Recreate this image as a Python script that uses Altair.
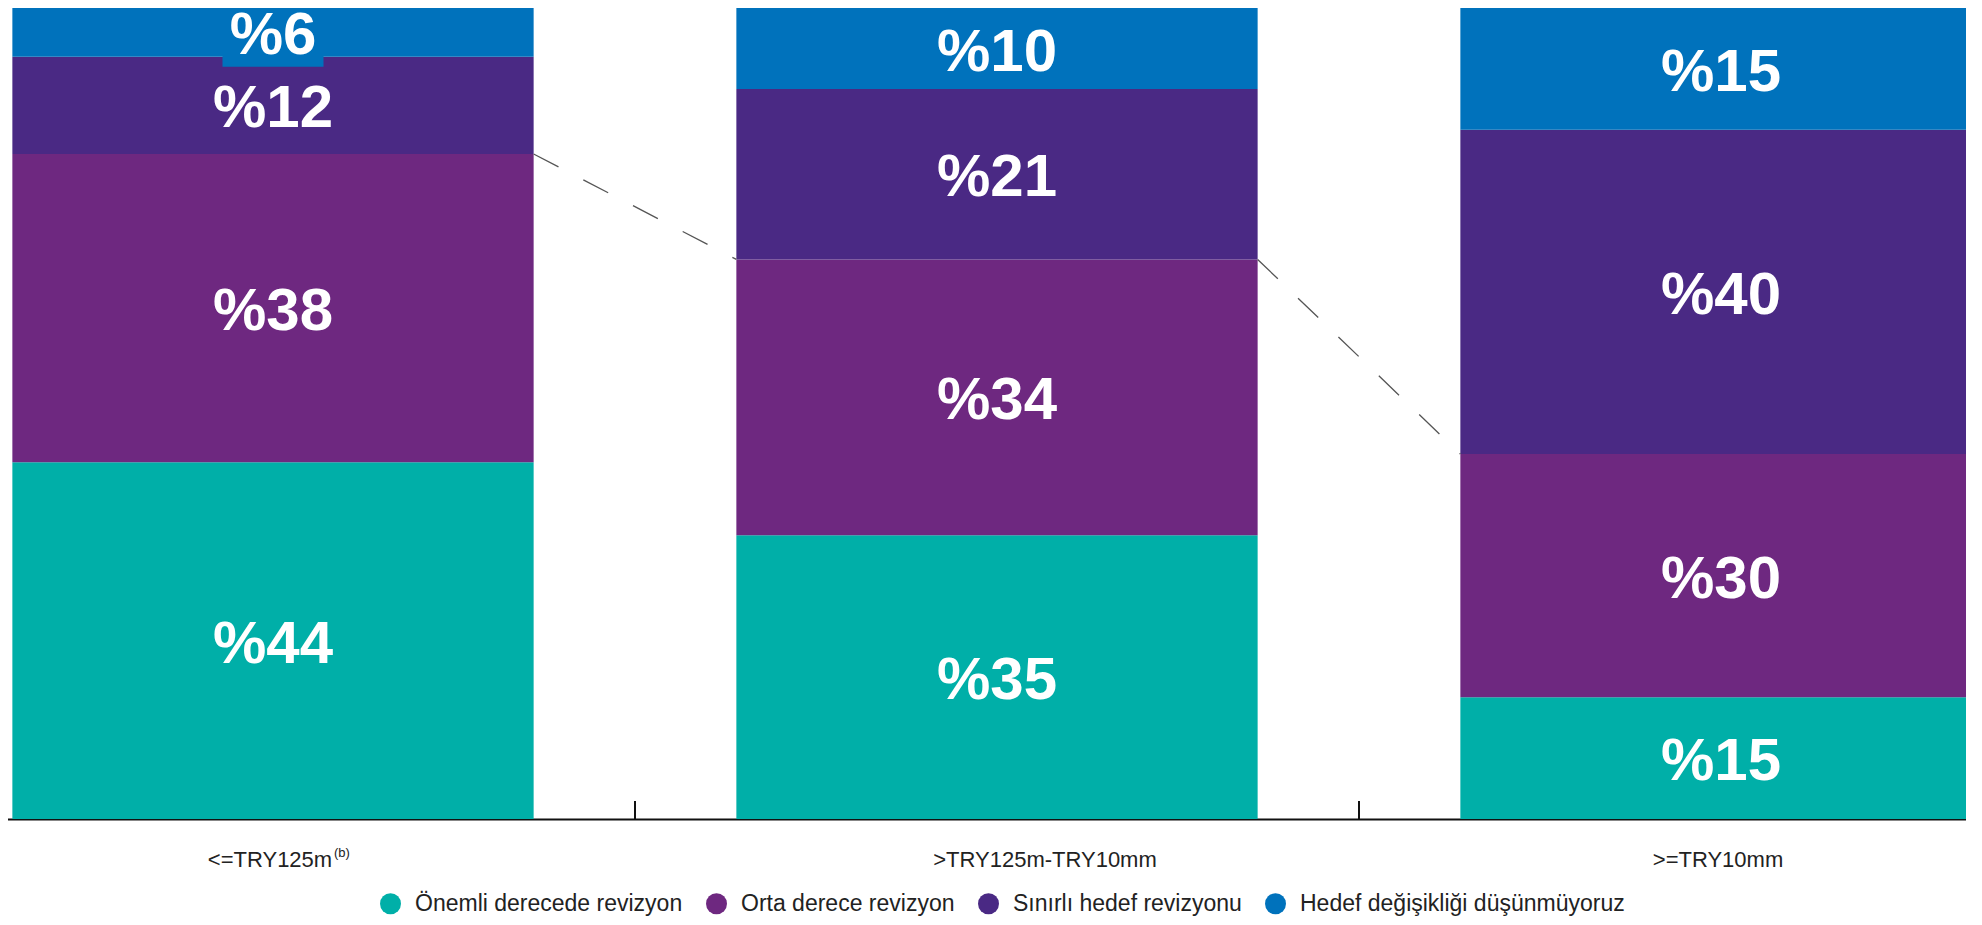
import altair as alt
import pandas as pd

# ---- data ----
categories = ["<=TRY125m", ">TRY125m-TRY10mm", ">=TRY10mm"]
footnotes = ["(b)", "", ""]
series = [
    "Önemli derecede revizyon",
    "Orta derece revizyon",
    "Sınırlı hedef revizyonu",
    "Hedef değişikliği düşünmüyoruz",
]
onemli = [44, 35, 15]
orta = [38, 34, 30]
sinirli = [12, 21, 40]
hedef = [6, 10, 15]
colors = ["#00AFA8", "#6E2880", "#4A2984", "#0072BC"]

values_by_series = [onemli, orta, sinirli, hedef]
rows = []
for i, c in enumerate(categories):
    for j, (s, vals) in enumerate(zip(series, values_by_series)):
        rows.append({"kategori": c, "seri": s, "sira": j,
                     "deger": vals[i], "etiket": f"%{vals[i]}"})
df = pd.DataFrame(rows)

cum = [a + b for a, b in zip(onemli, orta)]
conn = pd.DataFrame({"k1": categories[:-1], "k2": categories[1:],
                     "y1": cum[:-1], "y2": cum[1:]})
ticks = pd.DataFrame({"kategori": categories[1:]})
notes = pd.DataFrame({"kategori": categories, "not": footnotes})

# ---- layout ----
W, H = 1958, 811
FONT = "Liberation Sans, Arial, sans-serif"

xscale = alt.Scale(domain=categories, range=[-97, 2075],
                   paddingInner=0, paddingOuter=0)
yscale = alt.Scale(domain=[0, 100], nice=False, zero=True)
cscale = alt.Scale(domain=series, range=colors)

stacked = alt.Chart(df).transform_stack(
    stack="deger", groupby=["kategori"], as_=["y0", "y1"],
    sort=[alt.SortField("sira", order="ascending")]
).transform_calculate(ymid="(datum.y0 + datum.y1) / 2")

bars = stacked.mark_bar(width=alt.RelativeBandSize(0.72)).encode(
    x=alt.X("kategori:N", scale=xscale, sort=categories, title=None,
            axis=alt.Axis(labelAngle=0, labelFont=FONT, labelFontSize=22,
                          labelColor="#222", labelPadding=30,
                          labelBaseline="top", ticks=False,
                          domainColor="#111", domainWidth=2, labelLimit=0,
                          labelOffset=alt.condition(
                              f"datum.value == '{categories[1]}'",
                              alt.value(48), alt.value(-3)))),
    y=alt.Y("y0:Q", scale=yscale, axis=None),
    y2="y1:Q",
    color=alt.Color("seri:N", scale=cscale, sort=series,
                    legend=alt.Legend(orient="none", legendX=371, legendY=884,
                                      direction="horizontal", title=None,
                                      symbolType="circle", symbolSize=441,
                                      labelFont=FONT, labelFontSize=23,
                                      labelColor="#222", columnPadding=22,
                                      labelOffset=13, padding=0,
                                      symbolStrokeWidth=0, symbolOpacity=1,
                                      labelLimit=0)),
)

# background box behind the small top label (as in the source)
box = stacked.transform_filter("datum.deger < 8").mark_bar(
    width=101, y2Offset=10).encode(
    x=alt.X("kategori:N", scale=xscale),
    y=alt.Y("y1:Q", scale=yscale),
    y2="y0:Q",
    color=alt.Color("seri:N", scale=cscale, legend=None),
)

labels = stacked.mark_text(font=FONT, fontSize=60, fontWeight="bold",
                           color="white", baseline="middle", dy=4).encode(
    x=alt.X("kategori:N", scale=xscale),
    y=alt.Y("ymid:Q", scale=yscale),
    text="etiket:N",
)

note_layer = alt.Chart(notes).mark_text(
    font=FONT, fontSize=13, color="#222", align="left", baseline="top",
    dx=61).encode(
    x=alt.X("kategori:N", scale=xscale),
    y=alt.value(H + 28),
    text="not:N",
)

tick_layer = alt.Chart(ticks).mark_rule(color="#111", strokeWidth=2).encode(
    x=alt.X("kategori:N", scale=xscale, bandPosition=0),
    y=alt.value(H),
    y2=alt.value(H - 18),
)

conn_layer = alt.Chart(conn).mark_rule(
    color="#555", strokeWidth=1.3, strokeDash=[28, 28]).encode(
    x=alt.X("k1:N", scale=xscale, bandPosition=0.86),
    x2=alt.X2("k2", bandPosition=0.14),
    y=alt.Y("y1:Q", scale=yscale),
    y2="y2:Q",
)

chart = alt.layer(bars, box, labels, conn_layer, tick_layer, note_layer).properties(
    width=W, height=H,
    autosize=alt.AutoSizeParams(type="none"),
    padding={"left": 0, "top": 0, "right": 0, "bottom": 98},
).configure_view(stroke=None)

chart.save("out.html", embed_options={"renderer": "svg", "actions": False})
